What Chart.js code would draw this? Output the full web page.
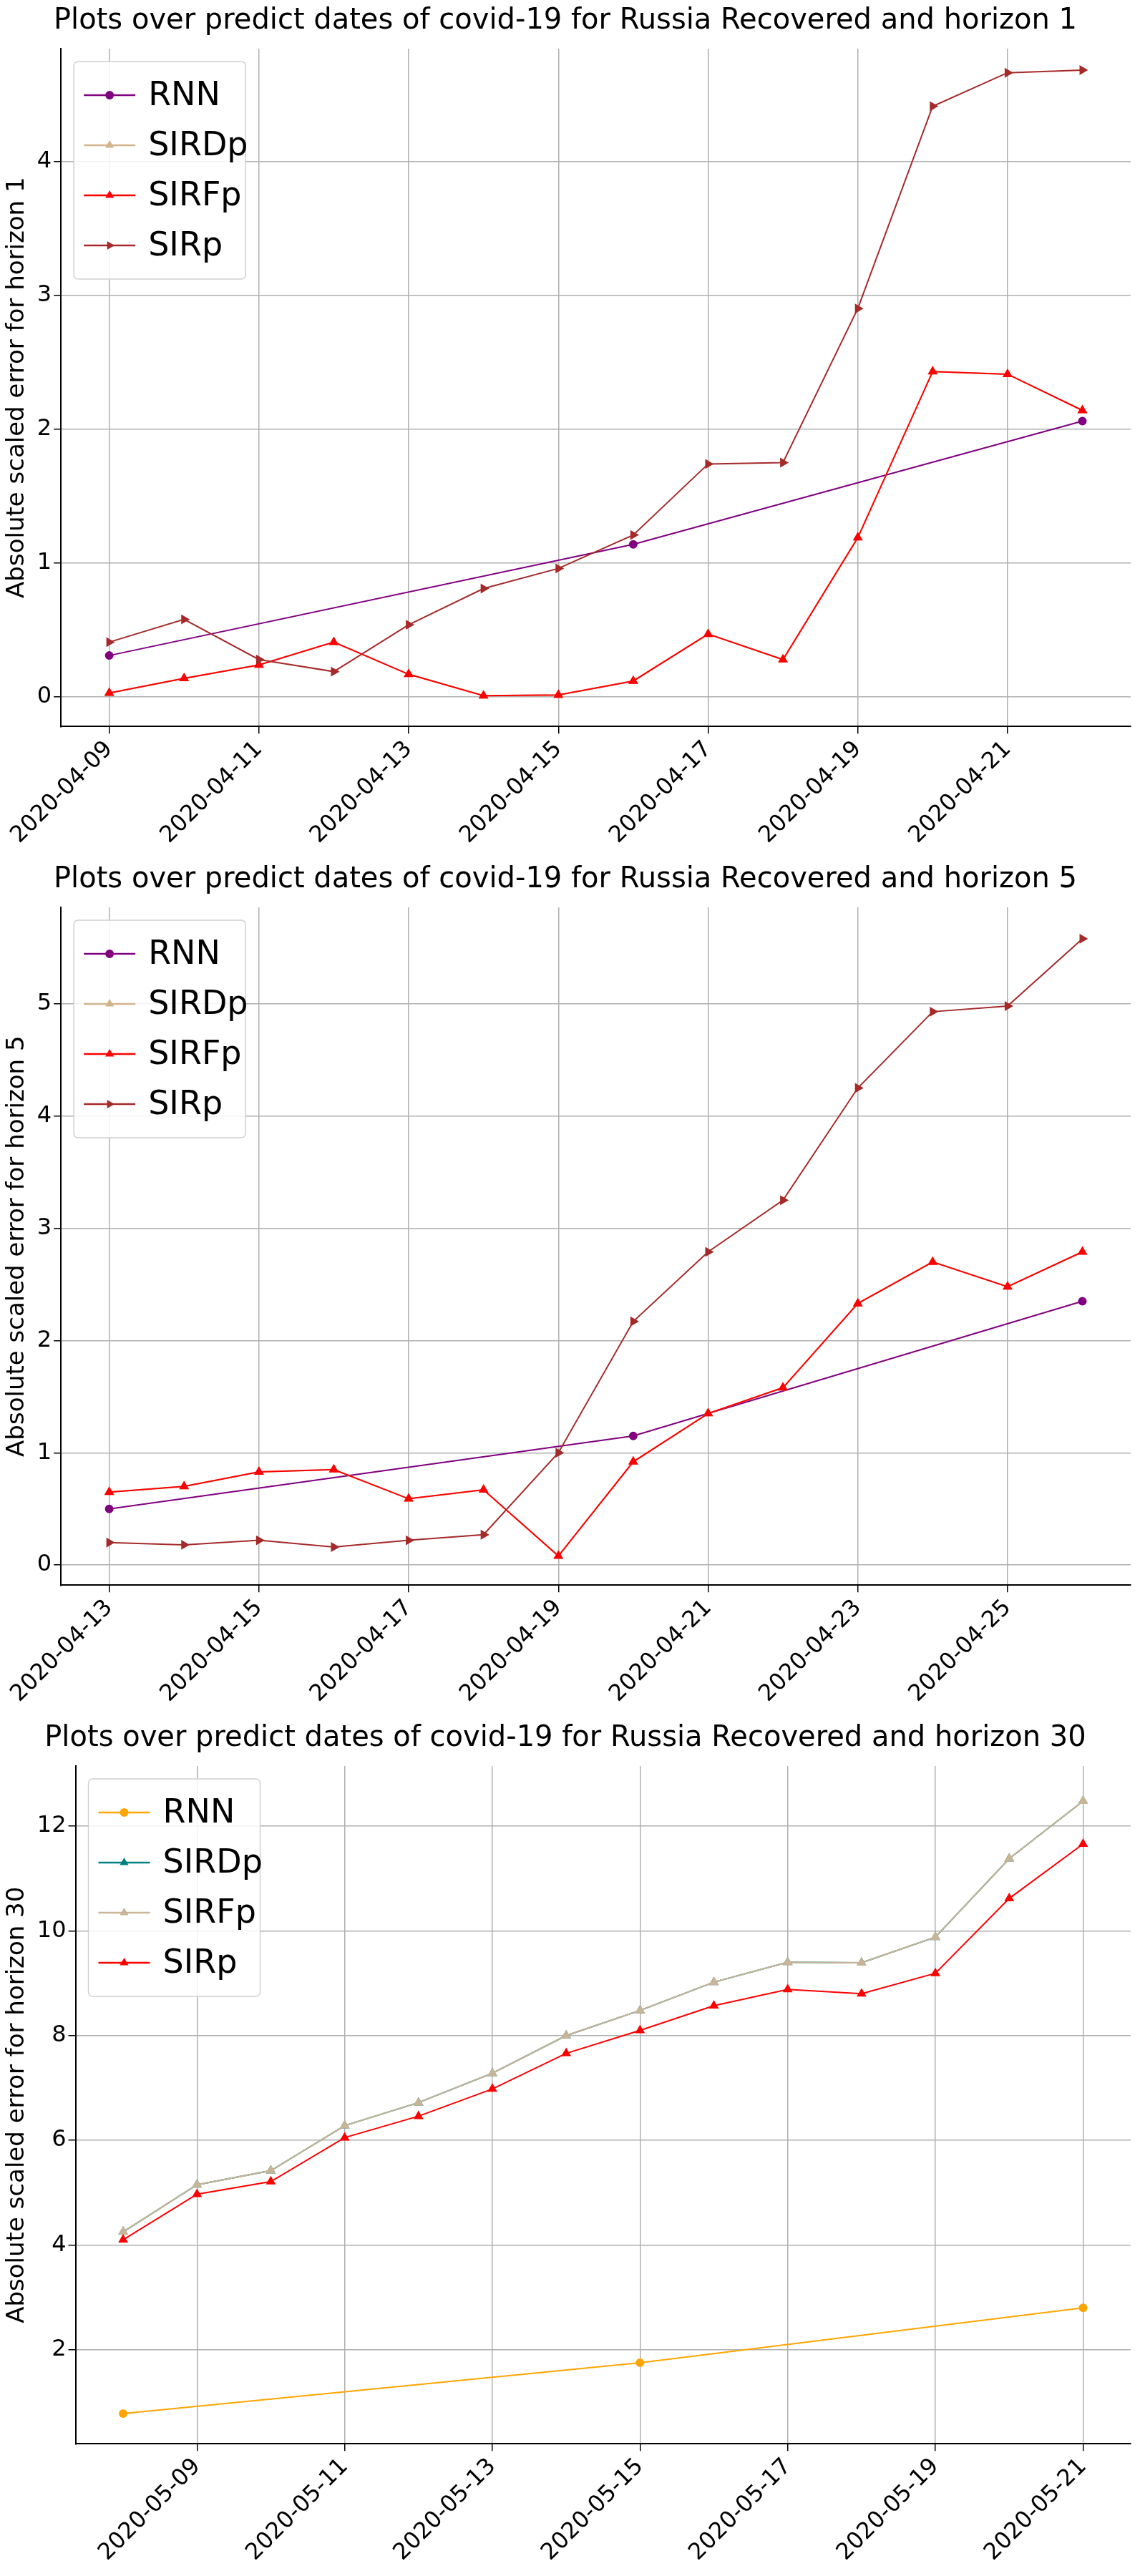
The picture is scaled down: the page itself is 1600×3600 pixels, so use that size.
<!DOCTYPE html>
<html><head><meta charset="utf-8">
<script src="https://cdn.jsdelivr.net/npm/chart.js@4.4.1/dist/chart.umd.min.js"></script>
<style>body{margin:0;background:#fff}.w{width:1600px;height:1200px;position:relative}</style>
</head><body>
<div class="w"><canvas id="c1"></canvas></div>
<div class="w"><canvas id="c2"></canvas></div>
<div class="w"><canvas id="c3"></canvas></div>
<script>
const dates1=["2020-04-09","2020-04-10","2020-04-11","2020-04-12","2020-04-13","2020-04-14","2020-04-15","2020-04-16","2020-04-17","2020-04-18","2020-04-19","2020-04-20","2020-04-21","2020-04-22"];
const rnnIdx1=[0,7,13], rnn1=[0.31,1.14,2.06];
const sirfp1=[0.03,0.14,0.24,0.41,0.17,0.01,0.015,0.12,0.47,0.28,1.19,2.43,2.41,2.14];
const sirdp1=sirfp1;
const sirp1=[0.41,0.58,0.28,0.19,0.54,0.81,0.96,1.21,1.74,1.75,2.90,4.41,4.66,4.68];

const dates2=["2020-04-13","2020-04-14","2020-04-15","2020-04-16","2020-04-17","2020-04-18","2020-04-19","2020-04-20","2020-04-21","2020-04-22","2020-04-23","2020-04-24","2020-04-25","2020-04-26"];
const rnnIdx2=[0,7,13], rnn2=[0.50,1.15,2.35];
const sirfp2=[0.65,0.70,0.83,0.85,0.59,0.67,0.08,0.92,1.35,1.58,2.33,2.70,2.48,2.79];
const sirdp2=sirfp2;
const sirp2=[0.20,0.18,0.22,0.16,0.22,0.27,1.00,2.17,2.79,3.25,4.25,4.93,4.98,5.58];

const dates3=["2020-05-08","2020-05-09","2020-05-10","2020-05-11","2020-05-12","2020-05-13","2020-05-14","2020-05-15","2020-05-16","2020-05-17","2020-05-18","2020-05-19","2020-05-20","2020-05-21"];
const rnnIdx3=[0,7,13], rnn3=[0.78,1.75,2.80];
const sirfp3=[4.25,5.15,5.42,6.28,6.72,7.28,8.00,8.48,9.02,9.40,9.39,9.88,11.38,12.48];
const sirdp3=sirfp3;
const sirp3=[4.10,4.97,5.21,6.05,6.46,6.98,7.66,8.10,8.57,8.88,8.80,9.19,10.62,11.66];

const F='DejaVu Sans';
let cnt=0;
function ser(label,vals,idx,color,style,rot){
  return {label,order:-(cnt++),data:vals.map((v,i)=>({x:idx?idx[i]:i,y:v})),borderColor:color,backgroundColor:color,
    pointStyle:style,pointRotation:rot||0,pointRadius:style==='circle'?5:6,borderWidth:2,tension:0};
}
const legendPlugin={id:'lg',afterDraw(ch){
  const c=ch.ctx,a=ch.chartArea,ds=ch.data.datasets;
  const x0=a.left+18,y0=a.top+18,w=240,h=ds.length*70+24;
  c.save();c.fillStyle='rgba(255,255,255,0.85)';c.strokeStyle='#d0d0d0';c.lineWidth=1.5;
  c.beginPath();c.roundRect(x0,y0,w,h,6);c.fill();c.stroke();
  c.font='46px '+F;c.textBaseline='middle';
  ds.forEach((d,i)=>{const y=y0+47+i*70;
    c.strokeStyle=d.borderColor;c.lineWidth=2.5;c.beginPath();c.moveTo(x0+14,y);c.lineTo(x0+86,y);c.stroke();
    c.fillStyle=d.borderColor;c.beginPath();
    if(d.pointStyle==='circle'){c.arc(x0+50,y,6,0,7);}
    else{const r=7;c.translate(x0+50,y);c.rotate((d.pointRotation||0)*Math.PI/180);c.moveTo(0,-r);c.lineTo(r*0.87,r*0.5);c.lineTo(-r*0.87,r*0.5);c.closePath();c.setTransform(1,0,0,1,0,0);}
    c.fill();
    c.fillStyle='#000';c.fillText(d.label,x0+104,y+2);});
  c.restore();}};
function make(id,title,dates,tickStart,ymin,ymax,ystep,ylab,datasets){
  new Chart(document.getElementById(id),{type:'line',data:{datasets},plugins:[legendPlugin],
  options:{responsive:true,maintainAspectRatio:false,animation:false,
   layout:{padding:{left:0,right:20,top:0,bottom:10}},
   plugins:{legend:{display:false},tooltip:{enabled:false},
     title:{display:true,text:title,color:'#000',font:{family:F,size:40,weight:'normal'},padding:{top:6,bottom:14}}},
   scales:{
    x:{type:'linear',min:-0.645,max:13.645,
      afterBuildTicks(s){const t=[];for(let i=tickStart;i<=13;i+=2)t.push({value:i});s.ticks=t;},
      ticks:{autoSkip:false,maxRotation:45,minRotation:45,color:'#000',font:{family:F,size:32},callback:v=>dates[v]},
      grid:{color:'#b0b0b0',lineWidth:1.5,drawTicks:true,tickLength:10,tickColor:'#000'},border:{color:'#000',width:2}},
    y:{min:ymin,max:ymax,
      afterBuildTicks(s){const t=[];for(let v=Math.ceil(ymin/ystep)*ystep;v<=ymax;v+=ystep)t.push({value:v});s.ticks=t;},
      ticks:{color:'#000',font:{family:F,size:32},callback:v=>String(Math.round(v))},
      title:{display:true,text:ylab,color:'#000',font:{family:F,size:34}},
      grid:{color:'#b0b0b0',lineWidth:1.5,tickLength:10,tickColor:'#000'},border:{color:'#000',width:2}}
   }}});
}
make('c1','Plots over predict dates of covid-19 for Russia Recovered and horizon 1',dates1,0,-0.22,4.84,1,'Absolute scaled error for horizon 1',[
  ser('RNN',rnn1,rnnIdx1,'#800080','circle'),ser('SIRDp',sirdp1,null,'#d2b48c','triangle'),
  ser('SIRFp',sirfp1,null,'#ff0000','triangle'),ser('SIRp',sirp1,null,'#a52a2a','triangle',90)]);
make('c2','Plots over predict dates of covid-19 for Russia Recovered and horizon 5',dates2,0,-0.18,5.86,1,'Absolute scaled error for horizon 5',[
  ser('RNN',rnn2,rnnIdx2,'#800080','circle'),ser('SIRDp',sirdp2,null,'#d2b48c','triangle'),
  ser('SIRFp',sirfp2,null,'#ff0000','triangle'),ser('SIRp',sirp2,null,'#a52a2a','triangle',90)]);
make('c3','Plots over predict dates of covid-19 for Russia Recovered and horizon 30',dates3,1,0.2,13.15,2,'Absolute scaled error for horizon 30',[
  ser('RNN',rnn3,rnnIdx3,'#ffa500','circle'),ser('SIRDp',sirdp3,null,'#008080','triangle'),
  ser('SIRFp',sirfp3,null,'#c8b496','triangle'),ser('SIRp',sirp3,null,'#ff0000','triangle')]);
</script></body></html>
